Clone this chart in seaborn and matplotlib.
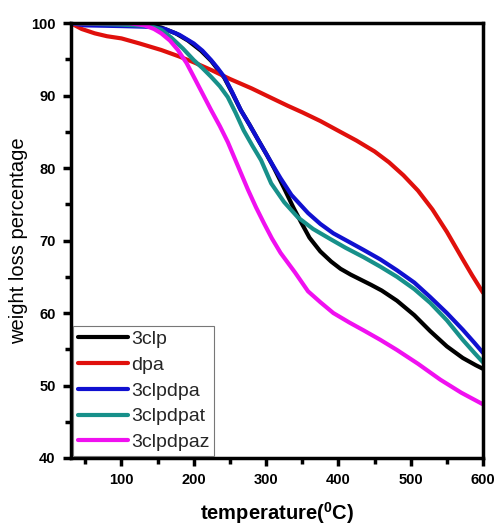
import numpy as np
import pandas as pd
import matplotlib
matplotlib.use("Agg")
import matplotlib.pyplot as plt
import seaborn as sns
from matplotlib.ticker import MultipleLocator

# TGA curves
t_3clp = [30, 100, 130, 155, 175, 192, 210, 224, 242, 253, 265, 277, 289, 300, 311, 325, 338,
          348, 360, 375, 390, 403, 417, 431, 445, 460, 481, 505, 527, 550, 572, 590, 600]
w_3clp = [100, 100, 99.9, 99.4, 98.6, 97.6, 96.2, 94.8, 92.5, 90.4, 88.0, 86.0, 83.9, 82.0, 80.0, 77.2, 74.5,
          72.6, 70.4, 68.5, 67.1, 66.1, 65.3, 64.6, 63.9, 63.1, 61.7, 59.7, 57.5, 55.4, 53.8, 52.8, 52.3]

t_dpa = [30, 45, 63, 80, 100, 125, 155, 180, 200, 225, 250, 280, 307, 330, 350, 375, 399,
         425, 450, 470, 490, 510, 530, 550, 572, 585, 600]
w_dpa = [100, 99.2, 98.6, 98.2, 97.9, 97.2, 96.3, 95.4, 94.6, 93.5, 92.3, 91.0, 89.7, 88.6, 87.7, 86.5, 85.2,
         83.8, 82.3, 80.8, 79.0, 76.9, 74.3, 71.2, 67.4, 65.2, 62.8]

t_3clpdpa = [30, 50, 100, 140, 160, 180, 200, 212, 224, 233, 242, 253, 265, 277, 289, 300, 311,
             320, 335, 358, 375, 393, 415, 435, 458, 481, 505, 527, 550, 572, 588, 600]
w_3clpdpa = [100, 99.7, 99.6, 99.5, 99.2, 98.4, 97.2, 96.2, 94.9, 93.8, 92.6, 90.5, 88.0, 86.0, 83.9, 82.0, 80.1,
             78.6, 76.3, 73.8, 72.3, 71.0, 69.8, 68.7, 67.4, 65.9, 64.2, 62.2, 60.0, 57.7, 55.9, 54.5]

t_3clpdpat = [30, 100, 140, 155, 169, 185, 200, 212, 224, 236, 247, 258, 269, 281, 293, 300, 307,
              325, 344, 365, 389, 410, 435, 458, 481, 505, 527, 550, 572, 588, 600]
w_3clpdpat = [100, 99.8, 99.6, 99.1, 98.0, 96.5, 94.9, 93.8, 92.6, 91.3, 89.8, 87.6, 85.2, 83.1, 81.1, 79.5, 77.9,
              75.3, 73.2, 71.6, 70.2, 69.0, 67.7, 66.4, 65.0, 63.3, 61.4, 59.0, 56.3, 54.5, 53.2]

t_3clpdpaz = [30, 110, 132, 145, 155, 167, 178, 190, 200, 212, 224, 236, 247, 261, 275, 286, 297,
              308, 320, 340, 358, 375, 393, 415, 435, 458, 481, 510, 541, 570, 600]
w_3clpdpaz = [100, 100, 99.7, 99.2, 98.6, 97.6, 96.3, 94.5, 92.6, 90.3, 88.0, 85.8, 83.6, 80.3, 77.0, 74.6, 72.4,
              70.3, 68.3, 65.6, 63.0, 61.5, 60.0, 58.7, 57.6, 56.3, 54.9, 53.0, 50.8, 49.0, 47.4]

labels = ["3clp", "dpa", "3clpdpa", "3clpdpat", "3clpdpaz"]
colors = ["#000000", "#e0100c", "#1010d0", "#17908a", "#f010f0"]

frames = []
for lab, t, w in zip(labels,
                     [t_3clp, t_dpa, t_3clpdpa, t_3clpdpat, t_3clpdpaz],
                     [w_3clp, w_dpa, w_3clpdpa, w_3clpdpat, w_3clpdpaz]):
    frames.append(pd.DataFrame({"temperature": t, "weight": w, "sample": lab}))
df = pd.concat(frames, ignore_index=True)

sns.set_style("ticks")
plt.rcParams["font.family"] = ["Liberation Sans", "DejaVu Sans"]

fig = plt.figure(figsize=(4.99, 5.27), dpi=100)
ax = fig.add_axes([0.142, 0.131, 0.826, 0.825])

sns.lineplot(data=df, x="temperature", y="weight", hue="sample", hue_order=labels,
             palette=dict(zip(labels, colors)), linewidth=3, sort=False,
             estimator=None, ax=ax)

ax.set_xlim(30, 600)
ax.set_ylim(40, 100)
ax.xaxis.set_major_locator(MultipleLocator(100))
ax.xaxis.set_minor_locator(MultipleLocator(50))
ax.yaxis.set_major_locator(MultipleLocator(10))
ax.yaxis.set_minor_locator(MultipleLocator(5))
ax.set_xticks([100, 200, 300, 400, 500, 600])
ax.tick_params(which="major", direction="out", length=6, width=2.5, color="black",
               labelcolor="black", labelsize=10.5, pad=5, top=False, right=False)
ax.tick_params(which="minor", direction="out", length=4, width=2.5, color="black",
               top=False, right=False)
for lbl in ax.get_xticklabels() + ax.get_yticklabels():
    lbl.set_fontweight("bold")
for sp in ax.spines.values():
    sp.set_linewidth(2.5)
    sp.set_color("black")
    sp.set_visible(True)

ax.set_xlabel("temperature($\\mathregular{^0}$C)", fontsize=14.5, fontweight="bold",
              color="black", labelpad=9)
ax.set_ylabel("weight loss percentage", fontsize=14.5, color="black", labelpad=2)

leg = ax.legend(loc="lower left", fontsize=14, frameon=True, fancybox=False,
                edgecolor="#777777", framealpha=1, borderaxespad=0.1,
                handlelength=2.6, handletextpad=0.15, labelspacing=0.42,
                borderpad=0.25)
leg.get_frame().set_linewidth(0.8)
for line in leg.get_lines():
    line.set_linewidth(3)

fig.savefig("out.png", dpi=100)
